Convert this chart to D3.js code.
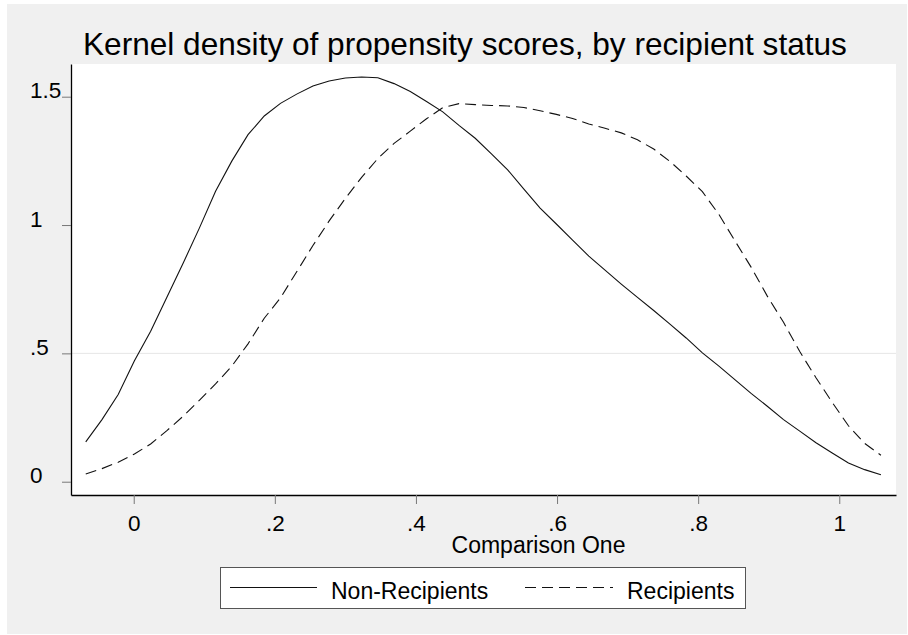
<!DOCTYPE html>
<html>
<head>
<meta charset="utf-8">
<script src="https://cdn.jsdelivr.net/npm/d3@7"></script>
<style>
    body { margin: 0; background: #ffffff; }
    text { font-family: "Liberation Sans", Arial, sans-serif; fill: #000; }
</style>
</head>
<body>
<div class="chart"></div>
<script>
// Data (kernel density evaluated at 50 points)
const xValues = [
    -0.068, -0.045, -0.022, 0.001, 0.024, 0.047, 0.070, 0.093, 0.116, 0.139,
    0.162, 0.185, 0.208, 0.231, 0.254, 0.277, 0.300, 0.323, 0.346, 0.369,
    0.392, 0.415, 0.438, 0.461, 0.484, 0.507, 0.530, 0.553, 0.576, 0.599,
    0.622, 0.645, 0.668, 0.691, 0.714, 0.737, 0.760, 0.783, 0.806, 0.829,
    0.852, 0.875, 0.898, 0.921, 0.944, 0.967, 0.990, 1.013, 1.036, 1.059
];

const nonRecipients = [
    0.155, 0.242, 0.340, 0.471, 0.586, 0.719, 0.851, 0.988, 1.132, 1.249,
    1.352, 1.425, 1.474, 1.510, 1.542, 1.561, 1.573, 1.577, 1.574, 1.551,
    1.520, 1.481, 1.441, 1.388, 1.338, 1.277, 1.215, 1.140, 1.066, 1.004,
    0.941, 0.879, 0.824, 0.770, 0.718, 0.667, 0.614, 0.560, 0.502, 0.451,
    0.398, 0.344, 0.294, 0.242, 0.197, 0.152, 0.112, 0.073, 0.047, 0.027
];

const recipients = [
    0.030, 0.051, 0.076, 0.108, 0.147, 0.199, 0.255, 0.317, 0.381, 0.450,
    0.537, 0.637, 0.716, 0.818, 0.920, 1.016, 1.104, 1.186, 1.259, 1.318,
    1.366, 1.414, 1.457, 1.473, 1.469, 1.466, 1.464, 1.458, 1.445, 1.431,
    1.415, 1.394, 1.377, 1.359, 1.332, 1.296, 1.248, 1.191, 1.130, 1.043,
    0.939, 0.836, 0.723, 0.621, 0.507, 0.405, 0.309, 0.218, 0.149, 0.103
];

const xTicks = [0, 0.2, 0.4, 0.6, 0.8, 1];
const xTickLabels = ['0', '.2', '.4', '.6', '.8', '1'];
const yTicks = [0, 0.5, 1, 1.5];
const yTickLabels = ['0', '.5', '1', '1.5'];
const yLines = [0.5];

const seriesNames = ['Non-Recipients', 'Recipients'];
const titleText = 'Kernel density of propensity scores, by recipient status';
const xTitleText = 'Comparison One';

function drawChart() {
    const dimensions = {
        width: 908,
        height: 635,
        plotLeft: 71,
        plotRight: 896,
        plotTop: 64,
        plotBottom: 495
    };

    const svg = d3.select('.chart')
        .append('svg')
        .attr('width', dimensions.width)
        .attr('height', dimensions.height);

    // Backgrounds
    svg.append('rect')
        .attr('x', 7).attr('y', 4)
        .attr('width', 900).attr('height', 630)
        .attr('fill', '#f0f0f0');

    svg.append('rect')
        .attr('x', dimensions.plotLeft)
        .attr('y', dimensions.plotTop)
        .attr('width', dimensions.plotRight - dimensions.plotLeft)
        .attr('height', dimensions.plotBottom - dimensions.plotTop)
        .attr('fill', '#ffffff');

    // Scales
    const xScale = d3.scaleLinear()
        .domain([-0.0889, 1.0804])
        .range([dimensions.plotLeft, dimensions.plotRight]);

    const yScale = d3.scaleLinear()
        .domain([-0.0518, 1.6274])
        .range([dimensions.plotBottom, dimensions.plotTop]);

    // Reference line at .5
    svg.selectAll('.yline')
        .data(yLines)
        .join('line')
        .attr('class', 'yline')
        .attr('x1', dimensions.plotLeft)
        .attr('x2', dimensions.plotRight)
        .attr('y1', d => yScale(d))
        .attr('y2', d => yScale(d))
        .attr('stroke', '#e6e6e6')
        .attr('stroke-width', 1);

    // Lines
    const nonData = xValues.map((x, i) => ({ x, y: nonRecipients[i] }));
    const recData = xValues.map((x, i) => ({ x, y: recipients[i] }));

    const lineGenerator = d3.line()
        .x(d => xScale(d.x))
        .y(d => yScale(d.y));

    svg.append('path')
        .datum(nonData)
        .attr('d', lineGenerator)
        .attr('fill', 'none')
        .attr('stroke', '#111')
        .attr('stroke-width', 1.1);

    svg.append('path')
        .datum(recData)
        .attr('d', lineGenerator)
        .attr('fill', 'none')
        .attr('stroke', '#111')
        .attr('stroke-width', 1.1)
        .attr('stroke-dasharray', '11,6');

    // Axes
    const xAxis = d3.axisBottom(xScale)
        .tickValues(xTicks)
        .tickFormat((d, i) => xTickLabels[i])
        .tickSize(9)
        .tickSizeOuter(0);

    const xAxisGroup = svg.append('g')
        .attr('transform', `translate(0, ${dimensions.plotBottom})`)
        .call(xAxis);
    xAxisGroup.select('.domain').attr('stroke', '#000').attr('stroke-width', 1.3);
    xAxisGroup.selectAll('.tick line').attr('stroke', '#777');
    xAxisGroup.selectAll('.tick text')
        .attr('y', 20.5)
        .attr('font-size', 22.5)
        .attr('font-family', '"Liberation Sans", Arial, sans-serif')
        .attr('fill', '#000');

    const yAxis = d3.axisLeft(yScale)
        .tickValues(yTicks)
        .tickFormat((d, i) => yTickLabels[i])
        .tickSize(9)
        .tickSizeOuter(0);

    const yAxisGroup = svg.append('g')
        .attr('transform', `translate(${dimensions.plotLeft}, 0)`)
        .call(yAxis);
    yAxisGroup.select('.domain').attr('stroke', '#000').attr('stroke-width', 1.3);
    yAxisGroup.selectAll('.tick line').attr('stroke', '#777');
    yAxisGroup.selectAll('.tick text')
        .attr('x', -41)
        .attr('y', -6)
        .attr('text-anchor', 'start')
        .attr('font-size', 22.5)
        .attr('font-family', '"Liberation Sans", Arial, sans-serif')
        .attr('fill', '#000');

    // Titles
    svg.append('text')
        .attr('x', 83)
        .attr('y', 55)
        .attr('font-size', 31.6)
        .text(titleText);

    svg.append('text')
        .attr('x', 538.5)
        .attr('y', 553)
        .attr('text-anchor', 'middle')
        .attr('font-size', 23)
        .text(xTitleText);

    // Legend
    const legend = svg.append('g');
    legend.append('rect')
        .attr('x', 220.5).attr('y', 567.5)
        .attr('width', 525).attr('height', 41)
        .attr('fill', '#fff')
        .attr('stroke', '#555')
        .attr('stroke-width', 1);

    legend.append('line')
        .attr('x1', 230).attr('x2', 317)
        .attr('y1', 587.5).attr('y2', 587.5)
        .attr('stroke', '#111').attr('stroke-width', 1.1);

    legend.append('line')
        .attr('x1', 525).attr('x2', 613)
        .attr('y1', 587.5).attr('y2', 587.5)
        .attr('stroke', '#111').attr('stroke-width', 1.1)
        .attr('stroke-dasharray', '11,6');

    legend.selectAll('.legend-label')
        .data(seriesNames)
        .join('text')
        .attr('class', 'legend-label')
        .attr('x', (d, i) => i === 0 ? 331 : 627)
        .attr('y', 598.5)
        .attr('font-size', 23)
        .text(d => d);
}

drawChart();
</script>
</body>
</html>
